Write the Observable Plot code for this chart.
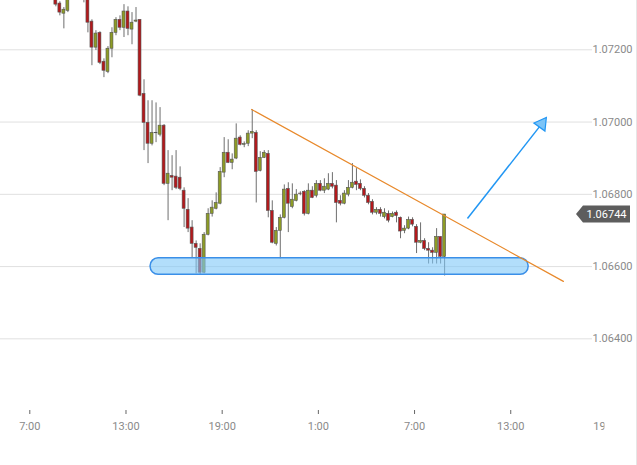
<!DOCTYPE html>
<html><head><meta charset="utf-8">
<script src="https://cdn.jsdelivr.net/npm/d3@7"></script>
<script src="https://cdn.jsdelivr.net/npm/@observablehq/plot@0.6"></script>
<style>body{margin:0;background:#fff;} #chart svg{display:block;}</style>
</head><body><div id="chart"></div>
<script>
// ---- data ----
const candleStart = "2023-05-01T08:30:00Z"; // first 15-minute candle
const candleMinutes = 15;
const open = [
1.07350,1.07328,1.07300,1.07308,1.07358,1.07391,1.07419,1.07397,1.07364,1.07278,
1.07206,1.07247,1.07167,1.07139,1.07203,1.07247,1.07283,1.07261,1.07306,1.07256,
1.07278,1.07283,1.07078,1.06998,1.06940,1.06970,1.06965,1.06990,1.06829,1.06851,
1.06849,1.06846,1.06810,1.06757,1.06708,1.06663,1.06649,1.06583,1.06688,1.06746,
1.06760,1.06774,1.06860,1.06915,1.06887,1.06899,1.06957,1.06937,1.06940,1.06968,
1.06970,1.06865,1.06901,1.06912,1.06754,1.06663,1.06699,1.06735,1.06815,1.06765,
1.06782,1.06802,1.06807,1.06746,1.06810,1.06796,1.06829,1.06810,1.06813,1.06829,
1.06824,1.06782,1.06774,1.06799,1.06818,1.06835,1.06829,1.06815,1.06796,1.06779,
1.06749,1.06757,1.06737,1.06746,1.06737,1.06749,1.06735,1.06699,1.06705,1.06729,
1.06710,1.06666,1.06671,1.06649,1.06644,1.06638,1.06682,1.06627];
const high = [
1.07364,1.07333,1.07317,1.07364,1.07405,1.07433,1.07441,1.07414,1.07369,1.07283,
1.07253,1.07250,1.07175,1.07209,1.07261,1.07289,1.07294,1.07325,1.07319,1.07303,
1.07317,1.07283,1.07117,1.07059,1.07059,1.07053,1.07040,1.06993,1.06921,1.06907,
1.06921,1.06876,1.06818,1.06788,1.06727,1.06671,1.06663,1.06694,1.06760,1.06782,
1.06804,1.06874,1.06957,1.06951,1.06912,1.06995,1.06962,1.06945,1.06976,1.07034,
1.06976,1.06918,1.06921,1.06921,1.06782,1.06708,1.06743,1.06826,1.06832,1.06829,
1.06813,1.06807,1.06810,1.06829,1.06821,1.06838,1.06838,1.06843,1.06857,1.06860,
1.06838,1.06796,1.06810,1.06838,1.06885,1.06871,1.06840,1.06821,1.06802,1.06785,
1.06763,1.06763,1.06760,1.06754,1.06751,1.06754,1.06737,1.06713,1.06737,1.06735,
1.06716,1.06721,1.06677,1.06666,1.06652,1.06705,1.06682,1.06744];
const low = [
1.07319,1.07294,1.07258,1.07303,1.07344,1.07378,1.07386,1.07330,1.07247,1.07156,
1.07198,1.07159,1.07123,1.07134,1.07178,1.07239,1.07253,1.07234,1.07239,1.07214,
1.07275,1.07070,1.06921,1.06885,1.06934,1.06943,1.06959,1.06824,1.06727,1.06810,
1.06813,1.06810,1.06708,1.06694,1.06624,1.06580,1.06576,1.06580,1.06685,1.06737,
1.06757,1.06771,1.06846,1.06885,1.06868,1.06896,1.06934,1.06929,1.06932,1.06954,
1.06776,1.06862,1.06899,1.06735,1.06663,1.06657,1.06621,1.06732,1.06694,1.06760,
1.06779,1.06796,1.06740,1.06743,1.06788,1.06790,1.06807,1.06802,1.06810,1.06815,
1.06721,1.06768,1.06771,1.06793,1.06815,1.06810,1.06810,1.06790,1.06771,1.06743,
1.06743,1.06737,1.06732,1.06721,1.06735,1.06721,1.06677,1.06691,1.06702,1.06710,
1.06636,1.06663,1.06644,1.06607,1.06607,1.06607,1.06607,1.06574];
const close = [
1.07325,1.07303,1.07311,1.07350,1.07391,1.07419,1.07397,1.07364,1.07275,1.07206,
1.07245,1.07164,1.07142,1.07203,1.07247,1.07283,1.07261,1.07306,1.07258,1.07275,
1.07281,1.07073,1.06998,1.06940,1.06970,1.06969,1.06990,1.06829,1.06857,1.06846,
1.06818,1.06815,1.06760,1.06705,1.06663,1.06652,1.06583,1.06688,1.06746,1.06763,
1.06776,1.06862,1.06915,1.06887,1.06896,1.06954,1.06937,1.06939,1.06968,1.06973,
1.06862,1.06901,1.06915,1.06754,1.06666,1.06699,1.06735,1.06813,1.06774,1.06785,
1.06799,1.06801,1.06746,1.06810,1.06790,1.06829,1.06810,1.06821,1.06829,1.06821,
1.06776,1.06774,1.06802,1.06818,1.06832,1.06826,1.06815,1.06796,1.06776,1.06749,
1.06757,1.06746,1.06749,1.06727,1.06746,1.06740,1.06697,1.06705,1.06729,1.06716,
1.06666,1.06671,1.06649,1.06644,1.06638,1.06682,1.06627,1.06744];

const yTicks = [1.064, 1.066, 1.068, 1.070, 1.072];
const xTickTimes = ["2023-05-01T07:00:00Z","2023-05-01T13:00:00Z","2023-05-01T19:00:00Z",
                    "2023-05-02T01:00:00Z","2023-05-02T07:00:00Z","2023-05-02T13:00:00Z","2023-05-02T19:00:00Z"];
const xTickLabels = ["7:00","13:00","19:00","1:00","7:00","13:00","19:00"];
const xDomain = ["2023-05-01T05:10:20Z", "2023-05-02T18:06:00Z"];
const yDomain = [1.062071, 1.073365];

// annotations
const trendTimes = ["2023-05-01T20:50:00Z", "2023-05-02T16:17:00Z"];
const trendPrices = [1.07035, 1.06559];
const zoneTimes = ["2023-05-01T14:32:00Z", "2023-05-02T14:07:00Z"];
const zonePrices = [1.06577, 1.06623];
const arrowTimes = ["2023-05-02T10:18:00Z", "2023-05-02T14:56:00Z"];
const arrowPrices = [1.06733, 1.06995];

// ---- build ----
const t0 = Date.parse(candleStart);
const step = candleMinutes * 60e3;
const candles = open.map((o, i) => ({
  mid: new Date(t0 + i * step + step / 2),
  b1: new Date(t0 + i * step + 2 * 60e3),
  b2: new Date(t0 + i * step + 13 * 60e3),
  open: o, high: high[i], low: low[i], close: close[i]
}));
const lastClose = close[close.length - 1];
const labelMap = new Map(xTickTimes.map((t, i) => [Date.parse(t), xTickLabels[i]]));
const xTicks = xTickTimes.map(t => new Date(t));
const trend = trendTimes.map((t, i) => ({t: new Date(t), p: trendPrices[i]}));
const zone = [{x1: new Date(zoneTimes[0]), x2: new Date(zoneTimes[1]), y1: zonePrices[0], y2: zonePrices[1]}];
const arrow = [{x1: new Date(arrowTimes[0]), y1: arrowPrices[0], x2: new Date(arrowTimes[1]), y2: arrowPrices[1]}];

const UP = "#8d9c25", DOWN = "#b3191c";

const plot = Plot.plot({
  width: 637, height: 465,
  marginLeft: 0, marginRight: 45, marginTop: 0, marginBottom: 57,
  style: {fontFamily: "Roboto, sans-serif", fontSize: "11px", background: "#fff", overflow: "visible"},
  x: {type: "utc", domain: xDomain.map(d => new Date(d))},
  y: {domain: yDomain},
  marks: [
    Plot.gridY(yTicks, {stroke: "#e0e0e0", strokeOpacity: 1}),
    Plot.axisY(yTicks, {anchor: "right", tickSize: 0, tickPadding: 0, tickFormat: d3.format(".5f"), fill: "#8a8a8a"}),
    Plot.axisX(xTicks, {anchor: "bottom", tickSize: 4, tickPadding: 8, dy: 2, tickFormat: d => labelMap.get(+d), stroke: "#666", fill: "#8a8a8a"}),
    Plot.ruleX(candles, {x: "mid", y1: "low", y2: "high", stroke: "#6e6e6e", strokeWidth: 1, clip: true}),
    Plot.rect(candles, {x1: "b1", x2: "b2", y1: "open", y2: "close",
      fill: d => d.close >= d.open ? UP : DOWN, stroke: "#555", strokeWidth: 0.6, clip: true}),
    Plot.rect(zone, {x1: "x1", x2: "x2", y1: "y1", y2: "y2", rx: 8,
      fill: "#7fc8f8", fillOpacity: 0.6, stroke: "#3a8fe8", strokeWidth: 1.5}),
    Plot.line(trend, {x: "t", y: "p", stroke: "#e8892b", strokeWidth: 1.2}),
    Plot.link(arrow, {x1: "x1", y1: "y1", x2: "x2", y2: "y2", stroke: "#2196f3", strokeWidth: 1.5}),
    Plot.dot(arrow, {x: "x2", y: "y2", symbol: "triangle2", r: 6.5, rotate: 36,
      fill: "#7cc4f7", stroke: "#2196f3", strokeWidth: 1.2})
  ]
});

const svg = d3.select(plot);
// clip the x-axis at the price panel (the last label is cut)
svg.insert("defs", ":first-child").append("clipPath").attr("id", "xaxisclip")
  .append("rect").attr("x", 0).attr("y", 0).attr("width", 604).attr("height", 465);
svg.selectAll('g[aria-label="x-axis tick"], g[aria-label="x-axis tick label"]').attr("clip-path", "url(#xaxisclip)");

// last price tag
const yp = plot.scale("y").apply(lastClose);
const tag = svg.append("g");
tag.append("path")
  .attr("d", `M576,${yp} L583,${yp - 8.5} L630,${yp - 8.5} L630,${yp + 8.5} L583,${yp + 8.5} Z`)
  .attr("fill", "#5d5d5d");
tag.append("text").attr("x", 606.5).attr("y", yp).attr("text-anchor", "middle")
  .attr("dominant-baseline", "central").attr("fill", "#fff")
  .style("font", "11px Roboto, sans-serif").text(d3.format(".5f")(lastClose));
svg.append("line").attr("x1", 636.5).attr("x2", 636.5).attr("y1", 0).attr("y2", 465)
  .attr("stroke", "#e6e6e6");

document.getElementById("chart").appendChild(plot);
</script>
</body></html>
